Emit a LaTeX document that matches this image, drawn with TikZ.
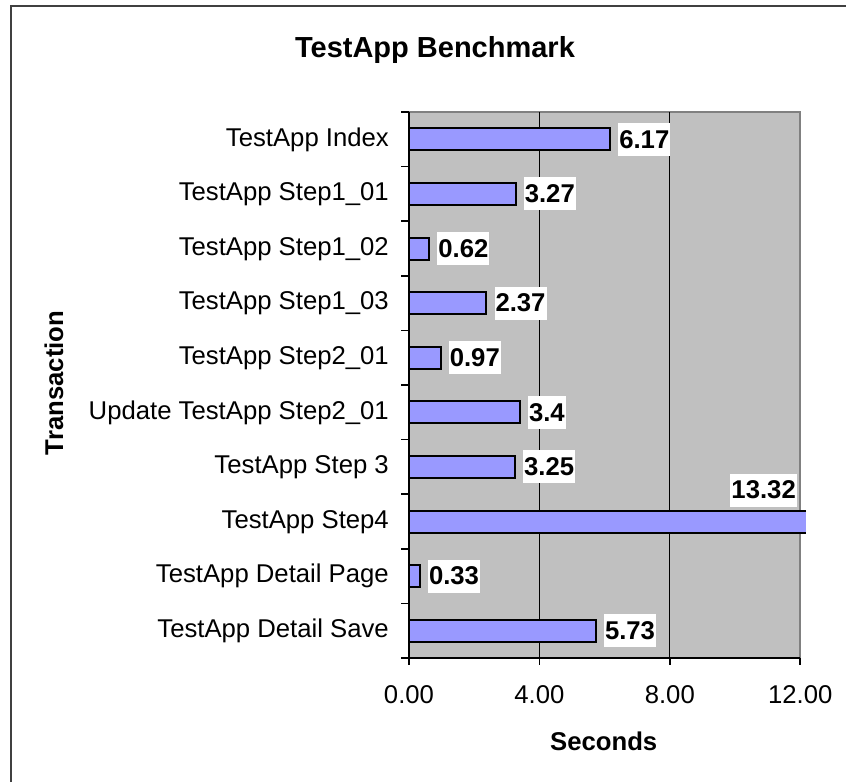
\documentclass[tikz,border=0pt]{standalone}
\usepackage{fontspec}
\setmainfont{Liberation Sans}

\definecolor{barblue}{HTML}{9999FF}
\definecolor{plotgray}{HTML}{C0C0C0}
\definecolor{edgegray}{HTML}{808080}
\definecolor{framegray}{HTML}{404040}

\tikzset{
	bar/.style={draw=black, line width=2pt, fill=barblue},
	vallabel/.style={fill=white, inner xsep=1pt, inner ysep=0pt, minimum height=33pt, font=\fontsize{25.7}{30}\selectfont\bfseries},
	catlabel/.style={anchor=base east, inner sep=0pt, font=\fontsize{25.7}{30}\selectfont},
	ticklabel/.style={anchor=base, inner sep=0pt, font=\fontsize{25.7}{30}\selectfont},
	axistitle/.style={anchor=base, inner sep=0pt, font=\fontsize{25.7}{30}\selectfont\bfseries}
}

\begin{document}
\begin{tikzpicture}[x=1pt,y=-1pt]
		\useasboundingbox (0,0) rectangle (846,782);
		\draw[framegray, line width=1.5pt] (11,782) -- (11,6) -- (846,6);
		
		\node[anchor=base, inner sep=0pt, font=\fontsize{29}{34}\selectfont\bfseries] at (435,57) (title) {TestApp Benchmark};
		
		% plot area and grid
		\fill[plotgray] (409,112) rectangle (800.2,658);
		\draw[edgegray, line width=2pt] (409,112) -- (800.2,112) -- (800.2,658);
		\draw[black, line width=1.2pt] (539.4,112) -- (539.4,658);
		\draw[black, line width=1.2pt] (669.8,112) -- (669.8,658);
		
		% bars
		\draw[bar] (409,128.3) rectangle (610.1,150.3);
		\draw[bar] (409,182.9) rectangle (515.6,204.9);
		\draw[bar] (409,237.5) rectangle (429.2,259.5);
		\draw[bar] (409,292.1) rectangle (486.3,314.1);
		\draw[bar] (409,346.7) rectangle (440.6,368.7);
		\draw[bar] (409,401.3) rectangle (519.8,423.3);
		\draw[bar] (409,455.9) rectangle (515.0,477.9);
		\fill[barblue] (409,510.5) rectangle (806,532.5);
		\draw[black, line width=2pt] (806,510.5) -- (409,510.5) -- (409,532.5) -- (806,532.5);
		\draw[bar] (409,565.1) rectangle (419.8,587.1);
		\draw[bar] (409,619.7) rectangle (595.8,641.7);
		
		% axes and ticks
		\draw[black, line width=2pt] (409,112) -- (409,665);
		\draw[black, line width=2pt] (401,658) -- (800.2,658);
		\draw[black, line width=1.5pt] (401,112) -- (409,112);
		\draw[black, line width=1.5pt] (401,166.6) -- (409,166.6);
		\draw[black, line width=1.5pt] (401,221.2) -- (409,221.2);
		\draw[black, line width=1.5pt] (401,275.8) -- (409,275.8);
		\draw[black, line width=1.5pt] (401,330.4) -- (409,330.4);
		\draw[black, line width=1.5pt] (401,385) -- (409,385);
		\draw[black, line width=1.5pt] (401,439.6) -- (409,439.6);
		\draw[black, line width=1.5pt] (401,494.2) -- (409,494.2);
		\draw[black, line width=1.5pt] (401,548.8) -- (409,548.8);
		\draw[black, line width=1.5pt] (401,603.4) -- (409,603.4);
		\draw[black, line width=1.5pt] (539.4,658) -- (539.4,665);
		\draw[black, line width=1.5pt] (669.8,658) -- (669.8,665);
		\draw[black, line width=1.5pt] (800.2,658) -- (800.2,665);
		
		% value labels
		\node[vallabel, anchor=west] at (618.1,139.3) (v1) {6.17};
		\node[vallabel, anchor=west] at (523.6,193.9) (v2) {3.27};
		\node[vallabel, anchor=west] at (437.2,248.5) (v3) {0.62};
		\node[vallabel, anchor=west] at (494.3,303.1) (v4) {2.37};
		\node[vallabel, anchor=west] at (448.6,357.7) (v5) {0.97};
		\node[vallabel, anchor=west] at (527.8,412.3) (v6) {3.4};
		\node[vallabel, anchor=west] at (523.0,466.9) (v7) {3.25};
		\node[vallabel, anchor=east] at (797,490) (v8) {13.32};
		\node[vallabel, anchor=west] at (427.8,576.1) (v9) {0.33};
		\node[vallabel, anchor=west] at (603.8,630.7) (v10) {5.73};
		
		% category labels
		\node[catlabel] at (389,146.0) (c1) {TestApp Index};
		\node[catlabel] at (389,200.6) (c2) {TestApp Step1\_01};
		\node[catlabel] at (389,255.2) (c3) {TestApp Step1\_02};
		\node[catlabel] at (389,309.8) (c4) {TestApp Step1\_03};
		\node[catlabel] at (389,364.4) (c5) {TestApp Step2\_01};
		\node[catlabel] at (389,419.0) (c6) {Update TestApp Step2\_01};
		\node[catlabel] at (389,473.6) (c7) {TestApp Step 3};
		\node[catlabel] at (389,528.2) (c8) {TestApp Step4};
		\node[catlabel] at (389,582.8) (c9) {TestApp Detail Page};
		\node[catlabel] at (389,637.4) (c10) {TestApp Detail Save};
		
		% tick labels and axis titles
		\node[ticklabel] at (409,703) (t0) {0.00};
		\node[ticklabel] at (539.4,703) (t4) {4.00};
		\node[ticklabel] at (669.8,703) (t8) {8.00};
		\node[ticklabel] at (800.2,703) (t12) {12.00};
		\node[axistitle] at (603.7,750) (xtitle) {Seconds};
		\node[axistitle, rotate=90] at (63,383) (ytitle) {Transaction};
		\end{tikzpicture}
\end{document}
